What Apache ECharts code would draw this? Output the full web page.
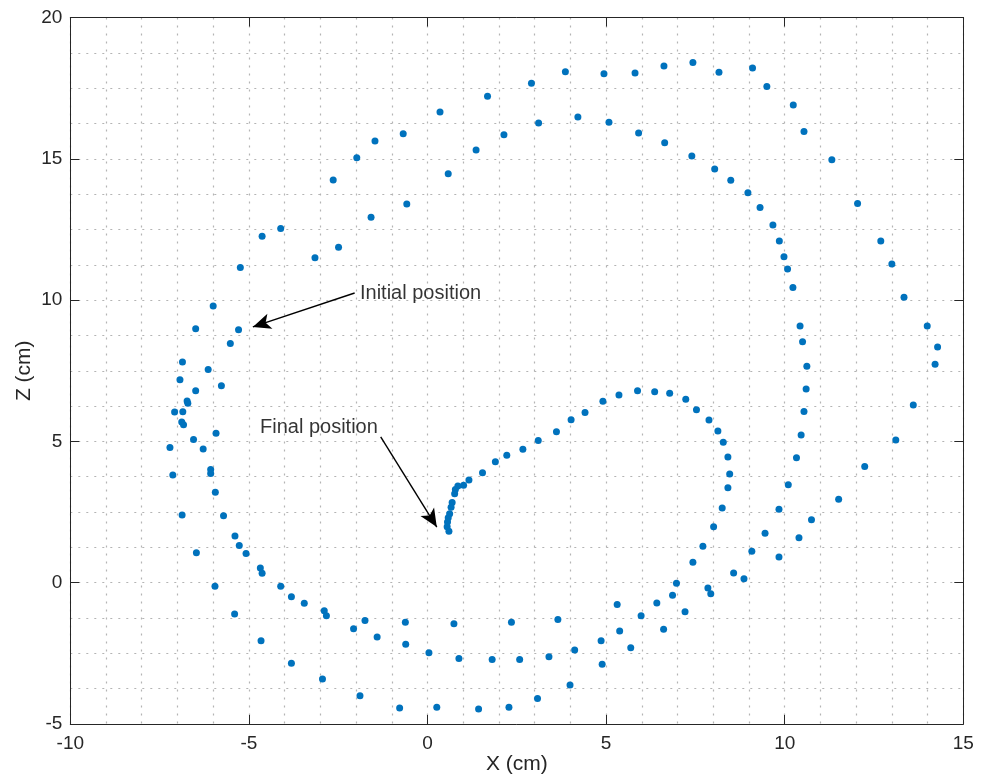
<!DOCTYPE html>
<html>
<head>
<meta charset="utf-8">
<title>Trajectory X-Z</title>
<script src="https://cdn.jsdelivr.net/npm/echarts@6/dist/echarts.min.js"></script>
<style>
  html, body { margin: 0; padding: 0; background: #ffffff; }
  #chart { width: 981px; height: 782px; }
</style>
</head>
<body>
<div id="chart"></div>
<script>
// Sampled positions of the tracked point (cm)
const posX = [
  -5.24, -4.63, -4.11, -2.64, -1.98, -1.47, -0.68, 0.35, 1.68, 2.91,
  3.86, 4.94, 5.81, 6.62, 7.43, 8.16, 9.10, 9.50, 10.24, 10.54,
  11.32, 12.04, 12.69, 13.00, 13.34, 13.99, 14.28, 14.21, 13.60, 13.11,
  12.24, 11.51, 10.75, 10.40,
  -3.15, -2.49, -1.58, -0.58, 0.58, 1.36, 2.14, 3.11, 4.21, 5.08,
  5.91, 6.64, 7.40, 8.04, 8.49, 8.97, 9.31, 9.67, 9.85, 9.98,
  10.08, 10.23, 10.43, 10.50, 10.62, 10.60, 10.54, 10.46, 10.33, 10.10,
  9.84, 9.45, 9.84,
  8.01, 7.71, 9.08, 7.43, 8.57, 8.86, 6.97, 7.85, 7.93, 6.86,
  5.31, 6.42, 7.21, 5.98, 5.38, 6.61, 4.86, 5.69, 4.12, 4.89, 3.99,
  -1.75, -0.62, 0.74, 2.35, 3.65, -1.41, -0.61, 0.04, 0.88, 1.81,
  2.58, 3.40, -1.89, -0.78, 0.26, 1.43, 2.28, 3.08,
  -5.71, -5.39, -5.27, -6.47, -5.08, -4.68, -4.63, -5.95, -4.11, -3.81,
  -3.45, -5.40, -2.89, -2.83, -2.07, -4.66, -3.81, -2.94,
  -6.00, -6.49, -5.29, -5.52, -6.86, -6.14, -6.93, -5.77, -6.49, -6.73,
  -6.71, -7.08, -6.85, -6.88, -6.83, -5.92, -6.55, -7.21, -6.28, -6.07,
  -6.07, -7.13, -5.94, -6.87,
  4.02, 4.41, 4.91, 5.36, 5.88, 6.36, 6.78, 7.23, 7.53, 7.88,
  8.13, 8.28, 8.41, 8.46, 8.41, 8.25,
  3.61, 3.10, 2.67, 2.22, 1.90, 1.54, 1.16, 1.01, 0.85, 0.78,
  0.76, 0.69, 0.66, 0.62, 0.58, 0.56, 0.55, 0.60
];
const posZ = [
  11.15, 12.26, 12.53, 14.25, 15.04, 15.63, 15.89, 16.66, 17.21, 17.67,
  18.08, 18.01, 18.04, 18.28, 18.41, 18.06, 18.21, 17.56, 16.90, 15.97,
  14.97, 13.42, 12.09, 11.28, 10.10, 9.08, 8.34, 7.73, 6.29, 5.05,
  4.11, 2.95, 2.23, 1.59,
  11.50, 11.87, 12.93, 13.40, 14.47, 15.31, 15.85, 16.27, 16.48, 16.29,
  15.91, 15.57, 15.10, 14.64, 14.24, 13.80, 13.28, 12.66, 12.09, 11.53,
  11.10, 10.45, 9.08, 8.53, 7.66, 6.85, 6.06, 5.23, 4.42, 3.47,
  2.60, 1.75, 0.91,
  1.98, 1.29, 1.11, 0.72, 0.34, 0.14, -0.02, -0.19, -0.39, -0.44,
  -0.77, -0.72, -1.03, -1.17, -1.71, -1.65, -2.05, -2.30, -2.38, -2.89, -3.62,
  -1.34, -1.40, -1.45, -1.40, -1.30, -1.92, -2.18, -2.48, -2.68, -2.72,
  -2.72, -2.62, -4.00, -4.43, -4.41, -4.47, -4.41, -4.10,
  2.37, 1.65, 1.32, 1.06, 1.03, 0.52, 0.33, -0.13, -0.13, -0.50,
  -0.73, -1.11, -0.99, -1.17, -1.63, -2.05, -2.85, -3.41,
  9.79, 8.99, 8.95, 8.46, 7.81, 7.54, 7.18, 6.97, 6.79, 6.43,
  6.35, 6.04, 6.05, 5.69, 5.59, 5.29, 5.07, 4.78, 4.73, 4.01,
  3.86, 3.81, 3.20, 2.40,
  5.77, 6.02, 6.42, 6.64, 6.79, 6.76, 6.70, 6.49, 6.12, 5.76,
  5.37, 4.97, 4.45, 3.85, 3.36, 2.64,
  5.34, 5.03, 4.72, 4.51, 4.28, 3.89, 3.63, 3.45, 3.42, 3.30,
  3.15, 2.84, 2.67, 2.44, 2.30, 2.15, 1.98, 1.82
];

// Axis ranges and tick spacing
const xRange = [-10, 15];
const zRange = [-5, 20];
const tickStep = 5;

// Annotation texts, anchor points and arrows (data units)
const noteTexts = ['Initial position', 'Final position'];
const noteAnchors = [[-1.89, 10.25], [-1.39, 5.51]];
const noteAlign = ['left', 'right'];
const arrowFrom = [[-2.04, 10.25], [-1.31, 5.16]];
const arrowTo = [[-4.89, 9.05], [0.26, 1.97]];

const points = posX.map((x, i) => [x, posZ[i]]);
const ink = '#262626';
const font = 'Liberation Sans, Arial, Helvetica, sans-serif';
const dotted = { color: '#b4b4b4', width: 1.2, type: [2, 6] };

const chart = echarts.init(document.getElementById('chart'), null, { renderer: 'canvas' });

function mainAxis(range, name, minorParts, extra) {
  return Object.assign({
    type: 'value',
    min: range[0],
    max: range[1],
    interval: tickStep,
    name: name,
    nameLocation: 'middle',
    nameMoveOverlap: false,
    nameTextStyle: { color: ink, fontSize: 21, fontFamily: font },
    axisLine: { show: true, onZero: false, lineStyle: { color: ink, width: 1 } },
    axisTick: { show: true, inside: true, length: 9, lineStyle: { color: ink, width: 1 } },
    splitLine: { show: true, lineStyle: dotted },
    minorTick: { show: false, splitNumber: minorParts },
    minorSplitLine: { show: true, lineStyle: dotted }
  }, extra);
}

function boxAxis(range, position) {
  return {
    type: 'value',
    position: position,
    min: range[0],
    max: range[1],
    interval: tickStep,
    axisLine: { show: true, onZero: false, lineStyle: { color: ink, width: 1 } },
    axisTick: { show: true, inside: true, length: 9, lineStyle: { color: ink, width: 1 } },
    axisLabel: { show: false },
    splitLine: { show: false }
  };
}

const option = {
  animation: false,
  backgroundColor: '#ffffff',
  grid: { left: 70.3, right: 17.7, top: 17.5, bottom: 58, containLabel: false },
  xAxis: [
    mainAxis(xRange, 'X (cm)', 5, { position: 'bottom', nameGap: 30, axisLabel: { color: ink, fontSize: 19, fontFamily: font, margin: 10 } }),
    boxAxis(xRange, 'top')
  ],
  yAxis: [
    mainAxis(zRange, 'Z (cm)', 4, { position: 'left', nameGap: 36, axisLabel: { color: ink, fontSize: 19, fontFamily: font, margin: 8 } }),
    boxAxis(zRange, 'right')
  ],
  series: [
    {
      name: 'position',
      type: 'scatter',
      symbol: 'circle',
      symbolSize: 7,
      itemStyle: { color: '#0072BD', opacity: 1 },
      data: points,
      z: 3,
      markLine: {
        silent: true,
        symbol: ['none', 'arrow'],
        symbolSize: [12, 18],
        label: { show: false },
        lineStyle: { color: '#000000', width: 1.4, type: 'solid' },
        data: arrowFrom.map((p, i) => [{ coord: p }, { coord: arrowTo[i] }])
      }
    },
    {
      name: 'notes',
      type: 'scatter',
      symbolSize: 0,
      silent: true,
      data: noteAnchors.map((p, i) => ({
        value: p,
        label: {
          show: true,
          position: noteAlign[i] === 'left' ? 'right' : 'left',
          distance: 0,
          formatter: noteTexts[i],
          color: '#000000',
          fontSize: 20,
          fontFamily: font
        }
      }))
    }
  ]
};

chart.setOption(option);
</script>
</body>
</html>
